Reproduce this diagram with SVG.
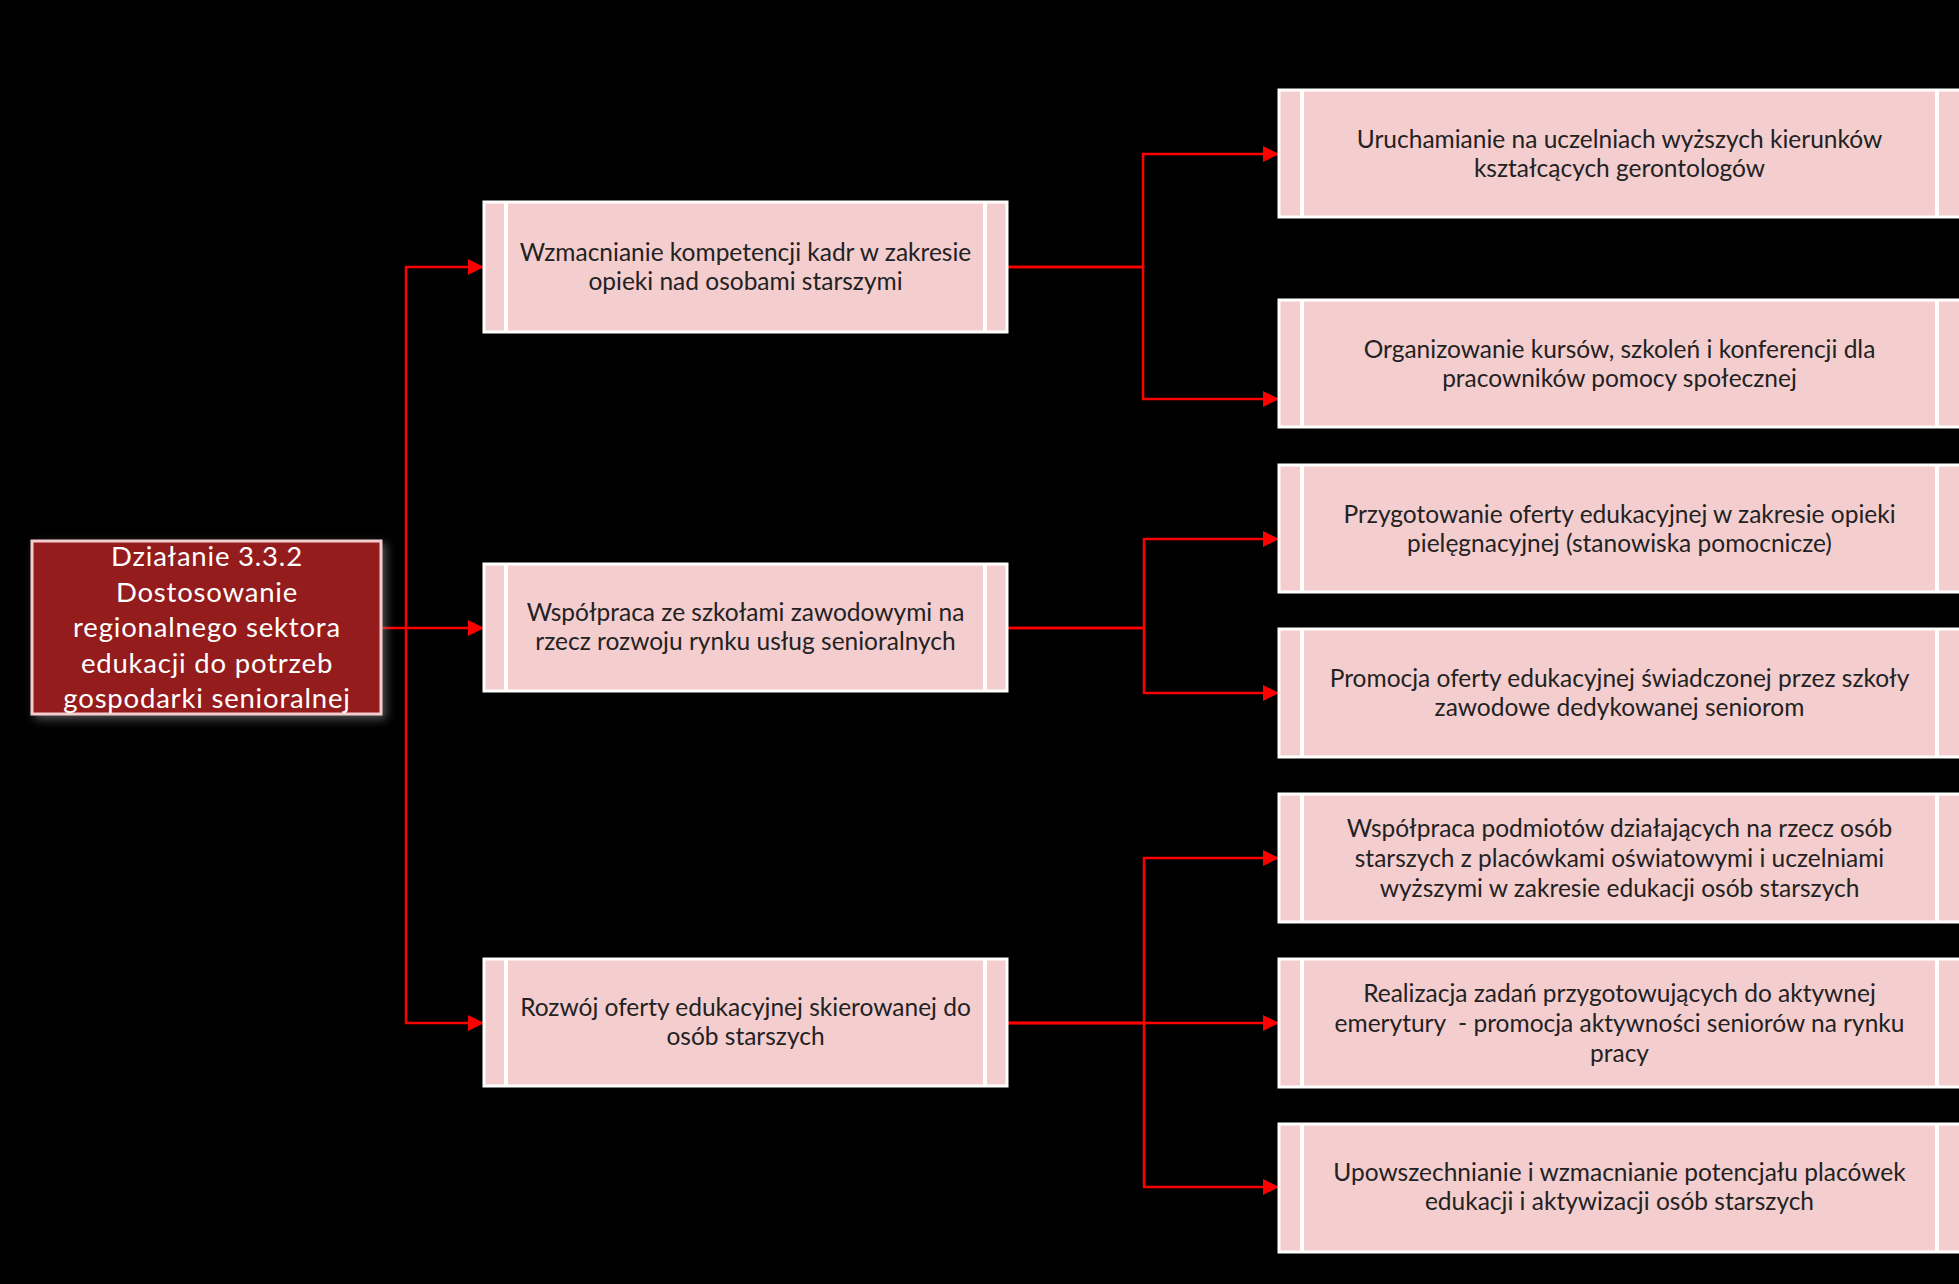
<svg xmlns="http://www.w3.org/2000/svg" width="1959" height="1284" viewBox="0 0 1959 1284">
<defs>
<style>
.bg{fill:#000}
.box{fill:#F4CDCE;stroke:#FFFFFF;stroke-width:3}
.bar{stroke:#FFFFFF;stroke-width:4}
.t{font-family:Lato,"Open Sans",sans-serif;font-size:24.5px;fill:#222222;text-anchor:middle}
.rt{font-family:Lato,"Open Sans",sans-serif;font-size:27.5px;fill:#FFFFFF;text-anchor:middle;letter-spacing:0.8px}
.root{fill:#951A1E;stroke:#F4CDCE;stroke-width:3}
.c{fill:none;stroke:#FF0000;stroke-width:2.5;marker-end:url(#arr)}
.cn{fill:none;stroke:#FF0000;stroke-width:2.5}
</style>
<marker id="arr" markerUnits="userSpaceOnUse" markerWidth="16" markerHeight="16" refX="16" refY="8" orient="auto">
<path d="M0,0 L16,8 L0,16 z" fill="#FF0000"/>
</marker>
<filter id="sh" x="-10%" y="-10%" width="130%" height="130%">
<feGaussianBlur in="SourceAlpha" stdDeviation="5"/>
<feOffset dx="4" dy="4" result="b"/>
<feFlood flood-color="#8a8a8a" flood-opacity="0.55"/>
<feComposite in2="b" operator="in"/>
<feMerge><feMergeNode/><feMergeNode in="SourceGraphic"/></feMerge>
</filter>
</defs>
<rect class="bg" x="0" y="0" width="1959" height="1284"/>

<g id="connectors">
<path class="cn" d="M381 628 H406"/>
<path class="c" d="M406 628 V267 H484"/>
<path class="c" d="M406 628 H484"/>
<path class="c" d="M406 628 V1023 H484"/>
<path class="c" d="M1007 267 H1143 V154 H1279"/>
<path class="c" d="M1007 267 H1143 V399 H1279"/>
<path class="c" d="M1007 628 H1144 V539 H1279"/>
<path class="c" d="M1007 628 H1144 V693 H1279"/>
<path class="c" d="M1007 1023 H1144 V858 H1279"/>
<path class="c" d="M1007 1023 H1279"/>
<path class="c" d="M1007 1023 H1144 V1187 H1279"/>
</g>

<g id="root">
<rect class="root" x="32" y="541" width="349" height="173" filter="url(#sh)"/>
<text class="rt" x="207" y="566">Działanie 3.3.2</text>
<text class="rt" x="207" y="602">Dostosowanie</text>
<text class="rt" x="207" y="637">regionalnego sektora</text>
<text class="rt" x="207" y="673">edukacji do potrzeb</text>
<text class="rt" x="207" y="708">gospodarki senioralnej</text>
</g>

<g id="m1">
<rect class="box" x="484" y="202" width="523" height="130"/>
<line class="bar" x1="506" y1="203" x2="506" y2="331"/>
<line class="bar" x1="985" y1="203" x2="985" y2="331"/>
<text class="t" x="745.5" y="261">Wzmacnianie kompetencji kadr w zakresie</text>
<text class="t" x="745.5" y="290">opieki nad osobami starszymi</text>
</g>
<g id="m2">
<rect class="box" x="484" y="564" width="523" height="127"/>
<line class="bar" x1="506" y1="565" x2="506" y2="690"/>
<line class="bar" x1="985" y1="565" x2="985" y2="690"/>
<text class="t" x="745.5" y="621">Współpraca ze szkołami zawodowymi na</text>
<text class="t" x="745.5" y="650">rzecz rozwoju rynku usług senioralnych</text>
</g>
<g id="m3">
<rect class="box" x="484" y="959" width="523" height="127"/>
<line class="bar" x1="506" y1="960" x2="506" y2="1085"/>
<line class="bar" x1="985" y1="960" x2="985" y2="1085"/>
<text class="t" x="745.5" y="1016">Rozwój oferty edukacyjnej skierowanej do</text>
<text class="t" x="745.5" y="1045">osób starszych</text>
</g>

<g id="r1">
<rect class="box" x="1279" y="90" width="682" height="127"/>
<line class="bar" x1="1302" y1="91" x2="1302" y2="216"/>
<line class="bar" x1="1937" y1="91" x2="1937" y2="216"/>
<text class="t" x="1619.5" y="148">Uruchamianie na uczelniach wyższych kierunków</text>
<text class="t" x="1619.5" y="177">kształcących gerontologów</text>
</g>
<g id="r2">
<rect class="box" x="1279" y="300" width="682" height="127"/>
<line class="bar" x1="1302" y1="301" x2="1302" y2="426"/>
<line class="bar" x1="1937" y1="301" x2="1937" y2="426"/>
<text class="t" x="1619.5" y="358">Organizowanie kursów, szkoleń i konferencji dla</text>
<text class="t" x="1619.5" y="387">pracowników pomocy społecznej</text>
</g>
<g id="r3">
<rect class="box" x="1279" y="465" width="682" height="127"/>
<line class="bar" x1="1302" y1="466" x2="1302" y2="591"/>
<line class="bar" x1="1937" y1="466" x2="1937" y2="591"/>
<text class="t" x="1619.5" y="523">Przygotowanie oferty edukacyjnej w zakresie opieki</text>
<text class="t" x="1619.5" y="552">pielęgnacyjnej (stanowiska pomocnicze)</text>
</g>
<g id="r4">
<rect class="box" x="1279" y="629" width="682" height="128"/>
<line class="bar" x1="1302" y1="630" x2="1302" y2="756"/>
<line class="bar" x1="1937" y1="630" x2="1937" y2="756"/>
<text class="t" x="1619.5" y="687">Promocja oferty edukacyjnej świadczonej przez szkoły</text>
<text class="t" x="1619.5" y="716">zawodowe dedykowanej seniorom</text>
</g>
<g id="r5">
<rect class="box" x="1279" y="794" width="682" height="128"/>
<line class="bar" x1="1302" y1="795" x2="1302" y2="921"/>
<line class="bar" x1="1937" y1="795" x2="1937" y2="921"/>
<text class="t" x="1619.5" y="837">Współpraca podmiotów działających na rzecz osób</text>
<text class="t" x="1619.5" y="867">starszych z placówkami oświatowymi i uczelniami</text>
<text class="t" x="1619.5" y="897">wyższymi w zakresie edukacji osób starszych</text>
</g>
<g id="r6">
<rect class="box" x="1279" y="959" width="682" height="128"/>
<line class="bar" x1="1302" y1="960" x2="1302" y2="1086"/>
<line class="bar" x1="1937" y1="960" x2="1937" y2="1086"/>
<text class="t" x="1619.5" y="1002">Realizacja zadań przygotowujących do aktywnej</text>
<text class="t" x="1619.5" y="1032" style="white-space:pre">emerytury  - promocja aktywności seniorów na rynku</text>
<text class="t" x="1619.5" y="1062">pracy</text>
</g>
<g id="r7">
<rect class="box" x="1279" y="1124" width="682" height="128"/>
<line class="bar" x1="1302" y1="1125" x2="1302" y2="1251"/>
<line class="bar" x1="1937" y1="1125" x2="1937" y2="1251"/>
<text class="t" x="1619.5" y="1181">Upowszechnianie i wzmacnianie potencjału placówek</text>
<text class="t" x="1619.5" y="1210">edukacji i aktywizacji osób starszych</text>
</g>
</svg>
